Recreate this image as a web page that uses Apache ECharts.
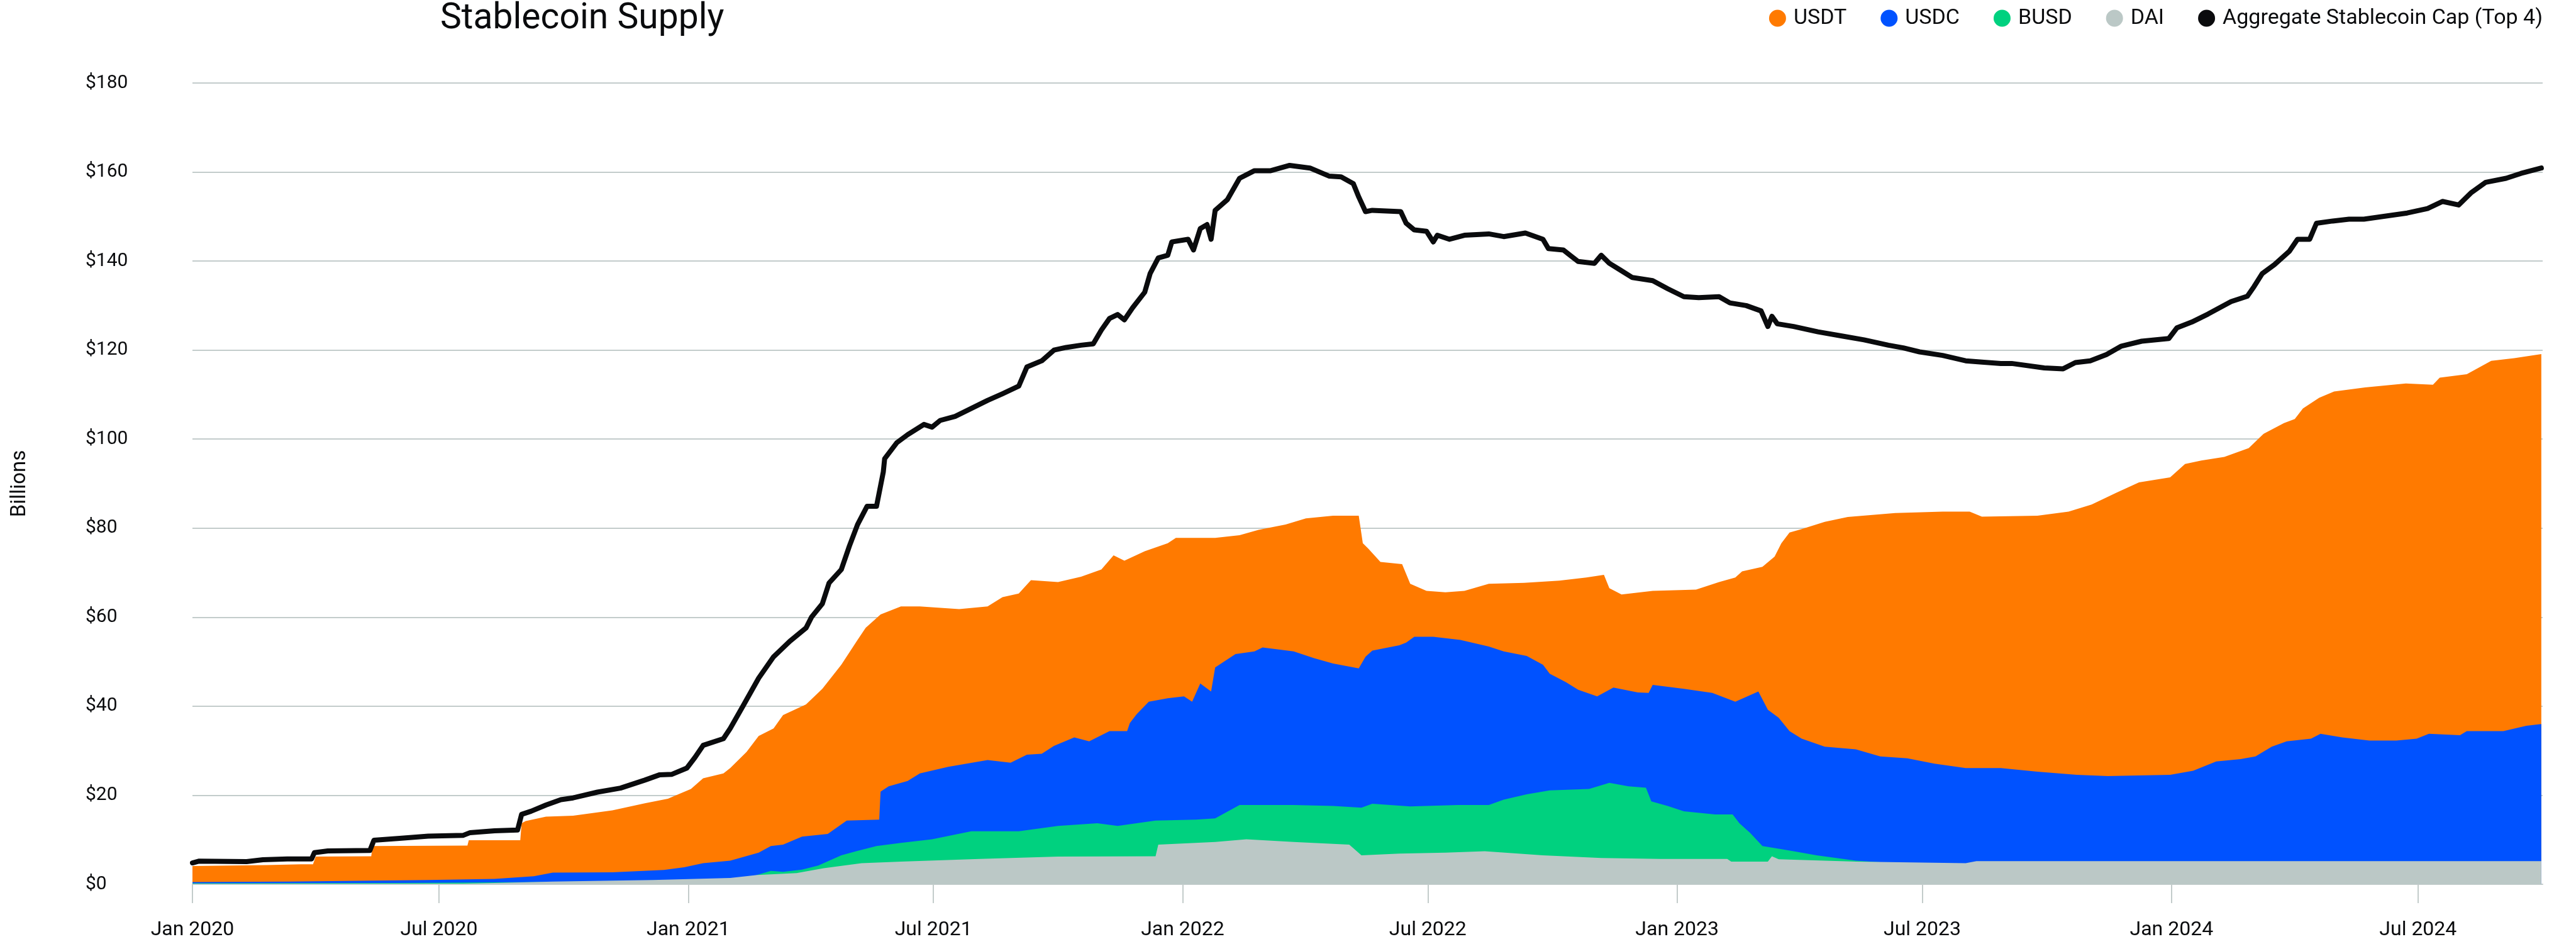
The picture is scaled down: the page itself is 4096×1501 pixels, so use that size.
<!DOCTYPE html>
<html lang="en">

<head>
    <meta charset="UTF-8">
    <title>Stablecoin Supply</title>
    <script src="https://cdn.jsdelivr.net/npm/echarts@6/dist/echarts.min.js"></script>
    <style>
        html, body { margin: 0; padding: 0; background: #fff; }
        #chart { width: 4096px; height: 1501px; }
    </style>
</head>

<body>
    <div id="chart"></div>
</body>
<script>
    // values in billions of USD
    var usdt = [
        ['2020-01-01', 4.1], ['2020-02-25', 4.3], ['2020-03-21', 4.5], ['2020-03-30', 4.5], ['2020-04-01', 6.2],
        ['2020-05-12', 6.3], ['2020-05-13', 8.6], ['2020-07-22', 8.7], ['2020-07-23', 9.9], ['2020-08-30', 9.9],
        ['2020-08-31', 13.7], ['2020-09-03', 14.2], ['2020-09-18', 15.2], ['2020-10-08', 15.4], ['2020-11-06', 16.6],
        ['2020-11-30', 18.2], ['2020-12-17', 19.2], ['2021-01-03', 21.4], ['2021-01-12', 23.8], ['2021-01-27', 24.9],
        ['2021-02-01', 26.1], ['2021-02-13', 29.7], ['2021-02-22', 33.3], ['2021-03-05', 35.0], ['2021-03-12', 38.0],
        ['2021-03-29', 40.4], ['2021-04-10', 43.9], ['2021-04-24', 49.3], ['2021-05-06', 54.9], ['2021-05-12', 57.6],
        ['2021-05-23', 60.6], ['2021-06-07', 62.4], ['2021-06-21', 62.4], ['2021-07-20', 61.8], ['2021-08-10', 62.4],
        ['2021-08-21', 64.5], ['2021-09-02', 65.3], ['2021-09-11', 68.3], ['2021-10-01', 67.9], ['2021-10-18', 69.1],
        ['2021-11-02', 70.7], ['2021-11-11', 73.9], ['2021-11-19', 72.7], ['2021-12-04', 74.8], ['2021-12-21', 76.6],
        ['2021-12-27', 77.8], ['2022-01-25', 77.8], ['2022-02-12', 78.4], ['2022-02-26', 79.6], ['2022-03-18', 80.8],
        ['2022-04-02', 82.2], ['2022-04-22', 82.8], ['2022-05-11', 82.8], ['2022-05-14', 76.6], ['2022-05-18', 75.4],
        ['2022-05-27', 72.4], ['2022-06-12', 71.9], ['2022-06-18', 67.5], ['2022-06-30', 65.9], ['2022-07-14', 65.6],
        ['2022-07-28', 65.9], ['2022-08-15', 67.5], ['2022-09-10', 67.7], ['2022-10-06', 68.2], ['2022-10-26', 68.9],
        ['2022-11-08', 69.5], ['2022-11-12', 66.5], ['2022-11-21', 65.1], ['2022-12-14', 65.9], ['2023-01-15', 66.2],
        ['2023-02-01', 67.9], ['2023-02-13', 68.9], ['2023-02-18', 70.3], ['2023-03-05', 71.3], ['2023-03-14', 73.6],
        ['2023-03-19', 76.6], ['2023-03-25', 79.0], ['2023-04-03', 79.8], ['2023-04-20', 81.4], ['2023-05-07', 82.5],
        ['2023-06-11', 83.4], ['2023-07-16', 83.7], ['2023-08-05', 83.7], ['2023-08-14', 82.6], ['2023-09-24', 82.8],
        ['2023-10-17', 83.7], ['2023-11-03', 85.3], ['2023-11-21', 87.9], ['2023-12-08', 90.3], ['2023-12-31', 91.4],
        ['2024-01-11', 94.4], ['2024-01-23', 95.2], ['2024-02-09', 96.0], ['2024-02-27', 98.0], ['2024-03-09', 101.2],
        ['2024-03-24', 103.6], ['2024-04-01', 104.5], ['2024-04-07', 106.9], ['2024-04-19', 109.3], ['2024-04-30', 110.7],
        ['2024-05-23', 111.6], ['2024-06-22', 112.5], ['2024-07-12', 112.2], ['2024-07-17', 113.8], ['2024-08-06', 114.6],
        ['2024-08-24', 117.6], ['2024-09-10', 118.2], ['2024-09-30', 119.1]
    ];

    var usdc = [
        ['2020-01-01', 0.5], ['2020-03-13', 0.6], ['2020-06-23', 0.95], ['2020-08-11', 1.2], ['2020-09-09', 1.8],
        ['2020-09-23', 2.6], ['2020-11-06', 2.7], ['2020-12-14', 3.2], ['2020-12-29', 3.8], ['2021-01-12', 4.75],
        ['2021-02-01', 5.3], ['2021-02-22', 7.1], ['2021-03-03', 8.6], ['2021-03-12', 8.9], ['2021-03-26', 10.7],
        ['2021-04-14', 11.3], ['2021-04-28', 14.3], ['2021-05-22', 14.5], ['2021-05-23', 20.8], ['2021-05-29', 22.0],
        ['2021-06-12', 23.2], ['2021-06-21', 24.9], ['2021-07-12', 26.4], ['2021-08-10', 27.9], ['2021-08-27', 27.3],
        ['2021-09-08', 29.1], ['2021-09-19', 29.3], ['2021-09-28', 31.1], ['2021-10-13', 33.0], ['2021-10-24', 32.1],
        ['2021-11-08', 34.4], ['2021-11-21', 34.4], ['2021-11-23', 36.2], ['2021-11-28', 38.2], ['2021-12-07', 41.0],
        ['2021-12-21', 41.8], ['2022-01-02', 42.2], ['2022-01-08', 41.0], ['2022-01-14', 45.1], ['2022-01-22', 43.3],
        ['2022-01-25', 48.7], ['2022-02-09', 51.7], ['2022-02-23', 52.3], ['2022-03-01', 53.2], ['2022-03-24', 52.3],
        ['2022-04-08', 50.8], ['2022-04-22', 49.6], ['2022-05-11', 48.5], ['2022-05-16', 51.1], ['2022-05-21', 52.5],
        ['2022-06-10', 53.7], ['2022-06-15', 54.3], ['2022-06-21', 55.6], ['2022-07-05', 55.6], ['2022-07-25', 54.9],
        ['2022-08-15', 53.4], ['2022-08-26', 52.3], ['2022-09-12', 51.3], ['2022-09-24', 49.3], ['2022-09-29', 47.3],
        ['2022-10-11', 45.4], ['2022-10-20', 43.7], ['2022-11-03', 42.2], ['2022-11-15', 44.2], ['2022-12-03', 43.1],
        ['2022-12-11', 43.0], ['2022-12-14', 44.8], ['2023-01-06', 43.9], ['2023-01-27', 43.0], ['2023-02-13', 41.0],
        ['2023-03-02', 43.3], ['2023-03-09', 39.2], ['2023-03-17', 37.4], ['2023-03-25', 34.4], ['2023-04-03', 32.7],
        ['2023-04-20', 30.9], ['2023-05-13', 30.3], ['2023-05-31', 28.7], ['2023-06-20', 28.3], ['2023-07-10', 27.1],
        ['2023-08-02', 26.1], ['2023-08-28', 26.1], ['2023-09-24', 25.3], ['2023-10-23', 24.6], ['2023-11-15', 24.3],
        ['2023-12-31', 24.6], ['2024-01-17', 25.5], ['2024-02-03', 27.6], ['2024-02-21', 28.1], ['2024-03-03', 28.7],
        ['2024-03-15', 30.9], ['2024-03-26', 32.1], ['2024-04-13', 32.7], ['2024-04-20', 33.8], ['2024-05-06', 33.0],
        ['2024-05-26', 32.3], ['2024-06-15', 32.3], ['2024-06-30', 32.7], ['2024-07-09', 33.8], ['2024-08-01', 33.5],
        ['2024-08-06', 34.4], ['2024-09-02', 34.4], ['2024-09-19', 35.6], ['2024-09-30', 36.0]
    ];

    var busd = [
        ['2020-01-01', 0.2], ['2020-05-30', 0.3], ['2020-09-17', 0.5], ['2021-01-01', 1.0], ['2021-02-14', 1.5],
        ['2021-03-03', 3.0], ['2021-03-12', 2.8], ['2021-03-26', 3.3], ['2021-04-07', 4.2], ['2021-04-24', 6.5],
        ['2021-05-05', 7.4], ['2021-05-20', 8.6], ['2021-06-07', 9.3], ['2021-06-30', 10.1], ['2021-07-29', 11.9],
        ['2021-09-02', 11.9], ['2021-10-01', 13.1], ['2021-10-30', 13.7], ['2021-11-14', 13.1], ['2021-12-12', 14.3],
        ['2022-01-11', 14.5], ['2022-01-25', 14.8], ['2022-02-12', 17.8], ['2022-03-24', 17.8], ['2022-04-22', 17.6],
        ['2022-05-13', 17.2], ['2022-05-21', 18.1], ['2022-06-18', 17.5], ['2022-07-23', 17.8], ['2022-08-15', 17.8],
        ['2022-08-26', 19.0], ['2022-09-12', 20.2], ['2022-09-29', 21.1], ['2022-10-28', 21.4], ['2022-11-12', 22.8],
        ['2022-11-26', 22.0], ['2022-12-09', 21.7], ['2022-12-13', 18.6], ['2022-12-25', 17.6], ['2023-01-06', 16.4],
        ['2023-01-29', 15.7], ['2023-02-11', 15.7], ['2023-02-16', 13.7], ['2023-02-24', 11.5], ['2023-03-05', 8.6],
        ['2023-03-17', 8.0], ['2023-03-28', 7.4], ['2023-04-14', 6.5], ['2023-05-13', 5.3], ['2023-06-11', 4.75],
        ['2023-07-14', 4.0], ['2023-08-23', 3.0], ['2023-11-01', 2.0], ['2024-01-01', 1.5], ['2024-09-30', 0.1]
    ];

    var dai = [
        ['2020-01-01', 0.1], ['2020-07-19', 0.15], ['2020-08-11', 0.3], ['2020-09-23', 0.6], ['2020-12-06', 0.95],
        ['2021-02-01', 1.4], ['2021-02-21', 2.1], ['2021-03-22', 2.5], ['2021-04-11', 3.6], ['2021-05-09', 4.75],
        ['2021-06-07', 5.1], ['2021-08-04', 5.7], ['2021-10-01', 6.2], ['2021-12-12', 6.3], ['2021-12-14', 8.9],
        ['2022-01-25', 9.5], ['2022-02-17', 10.1], ['2022-03-24', 9.5], ['2022-05-04', 8.9], ['2022-05-13', 6.5],
        ['2022-06-10', 6.9], ['2022-07-14', 7.1], ['2022-08-12', 7.4], ['2022-09-24', 6.5], ['2022-11-06', 5.9],
        ['2022-12-20', 5.7], ['2023-02-07', 5.7], ['2023-02-10', 5.1], ['2023-03-09', 5.1], ['2023-03-12', 6.3],
        ['2023-03-17', 5.6], ['2023-05-13', 5.1], ['2023-08-02', 4.75], ['2023-08-10', 5.2], ['2024-09-30', 5.2]
    ];

    var aggregateCap = [
        ['2020-01-01', 4.8], ['2020-01-06', 5.2], ['2020-02-10', 5.1], ['2020-02-22', 5.5], ['2020-03-11', 5.7],
        ['2020-03-29', 5.7], ['2020-03-31', 7.1], ['2020-04-10', 7.5], ['2020-05-11', 7.6], ['2020-05-14', 9.9],
        ['2020-06-02', 10.3], ['2020-06-23', 10.8], ['2020-07-19', 11.0], ['2020-07-24', 11.6], ['2020-08-11', 12.0],
        ['2020-08-28', 12.2], ['2020-08-31', 15.7], ['2020-09-07', 16.4], ['2020-09-18', 17.8], ['2020-09-29', 19.0],
        ['2020-10-08', 19.4], ['2020-10-26', 20.7], ['2020-11-12', 21.6], ['2020-11-30', 23.4], ['2020-12-11', 24.6],
        ['2020-12-20', 24.7], ['2020-12-31', 26.1], ['2021-01-06', 28.5], ['2021-01-12', 31.2], ['2021-01-27', 32.7],
        ['2021-02-01', 35.0], ['2021-02-10', 39.8], ['2021-02-22', 46.3], ['2021-03-05', 51.1], ['2021-03-17', 54.6],
        ['2021-03-29', 57.6], ['2021-04-02', 60.0], ['2021-04-10', 63.0], ['2021-04-15', 67.7], ['2021-04-24', 70.7],
        ['2021-04-30', 76.0], ['2021-05-06', 80.8], ['2021-05-13', 84.9], ['2021-05-20', 84.9], ['2021-05-25', 92.6],
        ['2021-05-26', 95.6], ['2021-06-04', 99.2], ['2021-06-12', 101.0], ['2021-06-24', 103.3], ['2021-06-30', 102.7],
        ['2021-07-06', 104.2], ['2021-07-17', 105.1], ['2021-07-29', 106.9], ['2021-08-10', 108.7], ['2021-08-21', 110.2],
        ['2021-09-02', 111.9], ['2021-09-08', 116.2], ['2021-09-19', 117.6], ['2021-09-28', 120.0], ['2021-10-07', 120.6],
        ['2021-10-18', 121.1], ['2021-10-27', 121.4], ['2021-11-02', 124.5], ['2021-11-08', 127.1], ['2021-11-14', 128.0],
        ['2021-11-19', 126.8], ['2021-11-25', 129.5], ['2021-12-04', 133.0], ['2021-12-08', 137.2], ['2021-12-14', 140.7],
        ['2021-12-21', 141.3], ['2021-12-24', 144.3], ['2022-01-05', 144.9], ['2022-01-09', 142.5], ['2022-01-14', 147.3],
        ['2022-01-19', 148.2], ['2022-01-22', 144.9], ['2022-01-25', 151.4], ['2022-02-03', 153.8], ['2022-02-12', 158.6],
        ['2022-02-23', 160.3], ['2022-03-07', 160.3], ['2022-03-21', 161.5], ['2022-04-05', 160.9], ['2022-04-19', 159.1],
        ['2022-04-28', 158.9], ['2022-05-07', 157.4], ['2022-05-11', 154.4], ['2022-05-16', 151.1], ['2022-05-21', 151.4],
        ['2022-06-11', 151.1], ['2022-06-15', 148.5], ['2022-06-21', 147.0], ['2022-06-30', 146.7], ['2022-07-05', 144.3],
        ['2022-07-08', 145.8], ['2022-07-17', 144.9], ['2022-07-28', 145.8], ['2022-08-15', 146.1], ['2022-08-26', 145.5],
        ['2022-09-11', 146.3], ['2022-09-24', 144.9], ['2022-09-28', 142.8], ['2022-10-09', 142.5], ['2022-10-14', 141.3],
        ['2022-10-20', 139.9], ['2022-11-01', 139.5], ['2022-11-06', 141.3], ['2022-11-12', 139.5], ['2022-11-20', 138.0],
        ['2022-11-29', 136.3], ['2022-12-14', 135.6], ['2022-12-25', 133.8], ['2023-01-06', 132.0], ['2023-01-17', 131.8],
        ['2023-02-01', 132.0], ['2023-02-09', 130.6], ['2023-02-21', 130.0], ['2023-03-04', 128.8], ['2023-03-09', 125.3],
        ['2023-03-12', 127.6], ['2023-03-16', 125.9], ['2023-03-28', 125.3], ['2023-04-15', 124.1], ['2023-05-02', 123.2],
        ['2023-05-19', 122.3], ['2023-06-06', 121.1], ['2023-06-17', 120.5], ['2023-06-29', 119.6], ['2023-07-16', 118.8],
        ['2023-08-02', 117.6], ['2023-08-14', 117.3], ['2023-08-28', 117.0], ['2023-09-05', 117.0], ['2023-09-29', 116.0],
        ['2023-10-13', 115.8], ['2023-10-22', 117.2], ['2023-11-02', 117.6], ['2023-11-14', 119.0], ['2023-11-25', 120.9],
        ['2023-12-10', 122.0], ['2023-12-30', 122.6], ['2024-01-05', 125.0], ['2024-01-16', 126.3], ['2024-01-28', 128.1],
        ['2024-02-14', 130.9], ['2024-02-26', 132.1], ['2024-03-02', 134.3], ['2024-03-08', 137.2], ['2024-03-17', 139.2],
        ['2024-03-28', 142.2], ['2024-04-03', 144.9], ['2024-04-12', 144.9], ['2024-04-17', 148.5], ['2024-04-29', 149.0],
        ['2024-05-11', 149.4], ['2024-05-22', 149.4], ['2024-06-09', 150.2], ['2024-06-23', 150.8], ['2024-07-08', 151.8],
        ['2024-07-19', 153.4], ['2024-07-31', 152.6], ['2024-08-09', 155.3], ['2024-08-20', 157.7], ['2024-09-04', 158.6],
        ['2024-09-15', 159.7], ['2024-09-30', 160.9]
    ];

    var monthNames = ['Jan', 'Feb', 'Mar', 'Apr', 'May', 'Jun', 'Jul', 'Aug', 'Sep', 'Oct', 'Nov', 'Dec'];
    var seriesNames = ['USDT', 'USDC', 'BUSD', 'DAI', 'Aggregate Stablecoin Cap (Top 4)'];

    var ink = '#0a0b0d';
    var gridGray = '#c3cccb';
    var fontFamily = 'Roboto, "Noto Sans", sans-serif';
    var halfYear = 182.5 * 24 * 3600 * 1000;

    function area(name, color, data) {
        return {
            name: name,
            type: 'line',
            data: data,
            showSymbol: false,
            symbol: 'none',
            sampling: null,
            lineStyle: { width: 0, color: color },
            itemStyle: { color: color },
            areaStyle: { color: color, opacity: 1 }
        };
    }

    var chart = echarts.init(document.getElementById('chart'), null, { renderer: 'canvas' });
    var option = {
        animation: false,
        backgroundColor: '#ffffff',
        textStyle: { fontFamily: fontFamily, color: ink },
        title: {
            text: 'Stablecoin Supply',
            left: 700,
            top: 2,
            padding: 0,
            textStyle: { fontFamily: fontFamily, fontSize: 57, fontWeight: 'normal', color: ink }
        },
        legend: {
            right: 53,
            top: 12,
            padding: 0,
            icon: 'circle',
            itemWidth: 27,
            itemHeight: 27,
            itemGap: 54,
            data: seriesNames,
            textStyle: { fontFamily: fontFamily, fontSize: 34, color: ink, padding: [0, 0, 0, 7] }
        },
        grid: {
            left: 306,
            right: 53,
            top: 132,
            bottom: 95,
            containLabel: false
        },
        xAxis: {
            type: 'time',
            min: '2020-01-01',
            max: '2024-10-01',
            minInterval: halfYear,
            maxInterval: halfYear,
            splitNumber: 10,
            axisLine: { show: true, lineStyle: { color: gridGray, width: 2 } },
            axisTick: { show: true, length: 30, lineStyle: { color: gridGray, width: 2 } },
            splitLine: { show: false },
            axisLabel: {
                margin: 57,
                fontSize: 32,
                color: ink,
                fontFamily: fontFamily,
                hideOverlap: false,
                formatter: function (v) {
                    var d = new Date(v);
                    return monthNames[d.getMonth()] + ' ' + d.getFullYear();
                }
            }
        },
        yAxis: {
            type: 'value',
            min: 0,
            max: 180,
            interval: 20,
            name: 'Billions',
            nameLocation: 'middle',
            nameRotate: 90,
            nameGap: 258,
            nameTextStyle: { fontSize: 33, color: ink, fontFamily: fontFamily },
            axisLine: { show: false },
            axisTick: { show: false },
            splitLine: { show: true, lineStyle: { color: gridGray, width: 2 } },
            axisLabel: {
                margin: 170,
                align: 'left',
                fontSize: 30,
                color: ink,
                fontFamily: fontFamily,
                formatter: '${value}'
            }
        },
        series: [
            area(seriesNames[0], '#ff7a00', usdt),
            area(seriesNames[1], '#0052ff', usdc),
            area(seriesNames[2], '#00d17f', busd),
            area(seriesNames[3], '#bbc8c6', dai),
            {
                name: seriesNames[4],
                type: 'line',
                data: aggregateCap,
                showSymbol: false,
                symbol: 'none',
                sampling: null,
                z: 5,
                lineStyle: { width: 8, color: ink, cap: 'round', join: 'round' },
                itemStyle: { color: ink }
            }
        ]
    };
    chart.setOption(option);
</script>

</html>
